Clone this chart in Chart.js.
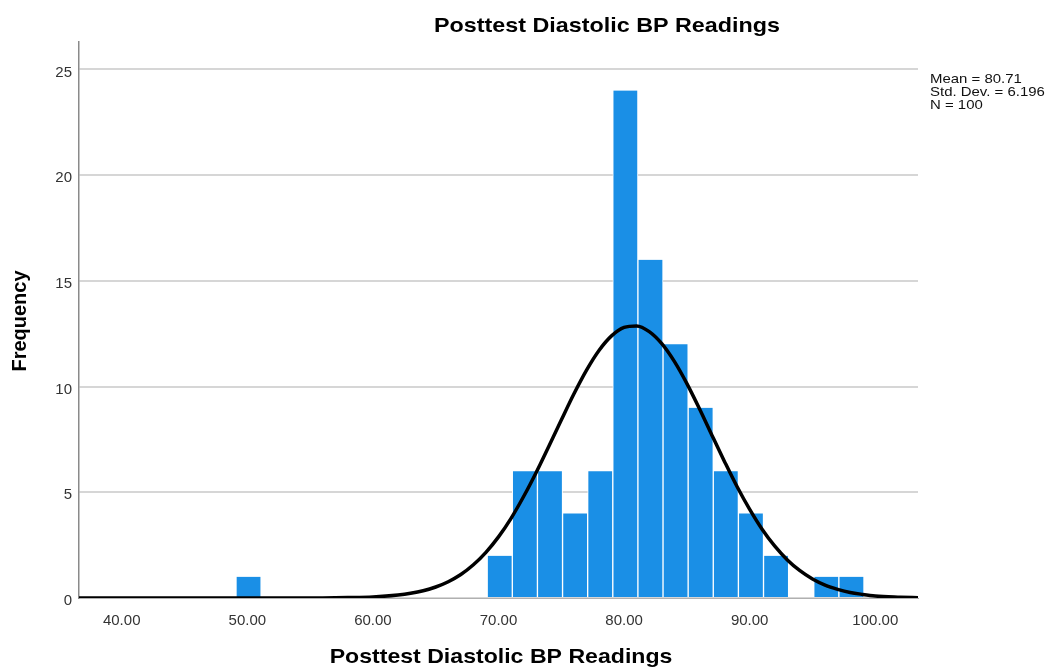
<!DOCTYPE html>
<html>
<head>
<meta charset="utf-8">
<script src="https://cdn.jsdelivr.net/npm/chart.js@4"></script>
<style>
  html, body { margin: 0; padding: 0; background: #fff; }
  #wrap { width: 1052px; height: 667px; position: relative; }
</style>
</head>
<body>
<div id="wrap"><canvas id="histo"></canvas></div>
<script>
// histogram bins (centre of each 2-unit bin) and counts
const binCentres = [50.1, 70.1, 72.1, 74.1, 76.1, 78.1, 80.1, 82.1, 84.1, 86.1, 88.1, 90.1, 92.1, 94.1, 96.1, 98.1];
const binCounts  = [1,    2,    6,    6,    4,    6,    24,   16,   12,   9,    6,    4,    2,    0,    1,    1];

// fitted normal curve
const curveX = [36.6, 50, 56, 58, 60, 62, 63, 64, 65, 66, 67, 68, 69, 70, 71, 72, 73, 74, 75, 76, 77, 78, 79, 80,
                81, 82, 83, 84, 85, 86, 87, 88, 89, 90, 91, 92, 93, 94, 95, 96, 97, 98, 99, 100, 102, 103.4];
const curveY = [0, 0, 0.005, 0.02, 0.05, 0.14, 0.22, 0.34, 0.52, 0.77, 1.11, 1.57, 2.16, 2.89, 3.77, 4.80, 5.94,
                7.17, 8.42, 9.65, 10.77, 11.71, 12.40, 12.80, 12.87, 12.60, 12.03, 11.19, 10.14, 8.95, 7.69, 6.45,
                5.26, 4.19, 3.24, 2.45, 1.80, 1.29, 0.90, 0.61, 0.41, 0.26, 0.17, 0.10, 0.04, 0.01];

const xTicks = [40, 50, 60, 70, 80, 90, 100];
const yTicks = [0, 5, 10, 15, 20, 25];

const chartTitle = "Posttest Diastolic BP Readings";
const xTitle = "Posttest Diastolic BP Readings";
const yTitle = "Frequency";
const statsLines = ["Mean = 80.71", "Std. Dev. = 6.196", "N = 100"];

const FONT = "'Liberation Sans', Arial, sans-serif";

// SPSS output is a bit wider than plain Arial, so stretch the drawn text a little
function wideText(ctx, text, x, y, sx) {
    ctx.save();
    ctx.translate(x, y);
    ctx.scale(sx, 1);
    ctx.fillText(text, 0, 0);
    ctx.restore();
}

// draws the titles and the stats box where SPSS puts them
const textPlugin = {
    id: "spssText",
    afterDraw(chart) {
        const ctx = chart.ctx;
        ctx.save();
        ctx.fillStyle = "#000";
        ctx.textBaseline = "alphabetic";

        ctx.textAlign = "center";
        ctx.font = "bold 21px " + FONT;
        wideText(ctx, chartTitle, 607, 32, 1.11);
        wideText(ctx, xTitle, 501, 663, 1.1);

        ctx.save();
        ctx.translate(20, 321);
        ctx.rotate(-Math.PI / 2);
        ctx.textBaseline = "middle";
        ctx.font = "bold 20px " + FONT;
        ctx.fillText(yTitle, 0, 0);
        ctx.restore();

        ctx.textAlign = "left";
        ctx.textBaseline = "middle";
        ctx.font = "13px " + FONT;
        ctx.fillStyle = "#111";
        statsLines.forEach((line, i) => wideText(ctx, line, 930, 79 + i * 13.3, 1.15));
        ctx.restore();
    }
};

const ctx = document.getElementById("histo").getContext("2d");

new Chart(ctx, {
    type: "bar",
    data: {
        datasets: [
            {
                type: "line",
                label: "Normal",
                data: curveX.map((x, i) => ({ x: x, y: curveY[i] })),
                borderColor: "#000",
                borderWidth: 3.5,
                pointRadius: 0,
                cubicInterpolationMode: "monotone",
                fill: false,
                order: 0
            },
            {
                label: "Frequency",
                data: binCentres.map((x, i) => ({ x: x, y: binCounts[i] })),
                backgroundColor: "#1a8fe6",
                borderColor: "#ffffff",
                borderWidth: { left: 1, right: 1, top: 0, bottom: 0 },
                borderSkipped: "bottom",
                barPercentage: 1,
                categoryPercentage: 1,
                order: 1
            }
        ]
    },
    plugins: [textPlugin],
    options: {
        responsive: true,
        maintainAspectRatio: false,
        animation: false,
        layout: {
            padding: { left: 0, right: 134, top: 42, bottom: 0 }
        },
        plugins: {
            legend: { display: false },
            tooltip: { enabled: false },
            title: { display: false }
        },
        scales: {
            x: {
                type: "linear",
                offset: false,
                min: 36.6,
                max: 103.4,
                afterBuildTicks: scale => {
                    scale.ticks = xTicks.map(v => ({ value: v }));
                },
                afterFit: scale => { scale.height = 69; },
                grid: { display: false },
                border: { display: true, color: "#b0b0b0", width: 1 },
                ticks: {
                    padding: 6,
                    color: "#333",
                    font: { family: FONT, size: 15 },
                    callback: v => Number(v).toFixed(2)
                }
            },
            y: {
                min: 0,
                max: 26.3,
                afterBuildTicks: scale => {
                    scale.ticks = yTicks.map(v => ({ value: v }));
                },
                afterFit: scale => { scale.width = 79; },
                grid: { color: "#d6d6d6", lineWidth: 2, drawTicks: false },
                border: { display: true, color: "#8a8a8a", width: 1.5 },
                ticks: {
                    padding: 7,
                    labelOffset: 3,
                    color: "#333",
                    font: { family: FONT, size: 15 }
                }
            }
        }
    }
});
</script>
</body>
</html>
